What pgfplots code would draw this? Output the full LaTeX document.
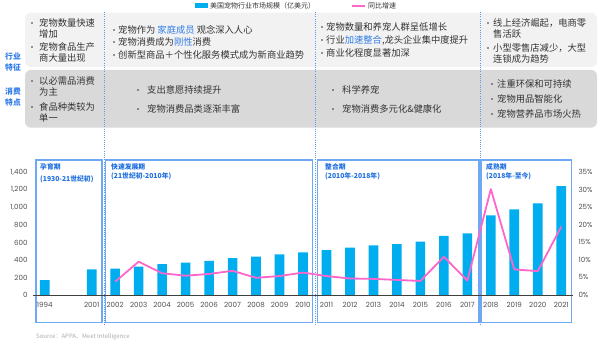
\documentclass[border=0pt]{standalone}
\usepackage{pgfplots}
\pgfplotsset{compat=1.18}
\usepackage{pgfplotstable}
\usepackage{fontspec}
\setmainfont{Poppins}
\newfontfamily\cjk{Noto Sans CJK SC}
\definecolor{barblue}{HTML}{00AEEF}
\definecolor{linepink}{HTML}{FF66CC}
\definecolor{boxblue}{HTML}{6FA8F5}
\definecolor{lblblue}{HTML}{1F6FE0}
\definecolor{txt}{HTML}{333333}
\definecolor{ticktxt}{HTML}{505050}
\definecolor{hl}{HTML}{2F7BE8}
\definecolor{rowa}{HTML}{F2F2F2}
\definecolor{rowb}{HTML}{D9D9D9}
\definecolor{dotblue}{HTML}{5B9BE8}
\definecolor{axisgray}{HTML}{404040}
\definecolor{srcgray}{HTML}{AAAAAA}

\pgfplotstableread{
x val
0 170
2 293
3 300
4 323
5 353
6 369
7 388
8 422
9 437
10 464
11 487
12 513
13 540
14 566
15 581
16 608
17 676
18 703
19 909
20 977
21 1045
22 1243
}\bars

\pgfplotstableread{
x g
3 3.8
4 9.5
5 6.2
6 5.5
7 6.0
8 6.9
9 4.9
10 5.4
11 6.4
12 5.4
13 4.7
14 4.6
15 4.3
16 4.0
17 10.9
18 4.1
19 30.2
20 7.3
21 6.8
22 19.5
}\growth

\newcommand{\tf}{\cjk\fontsize{9.3}{11}\selectfont\color{txt}}
\newcommand{\bl}[2]{\fill[txt] (#1,348-#2) circle (0.9);}

\begin{document}
\begin{tikzpicture}[x=1pt,y=1pt]
\path[use as bounding box, fill=white] (0,0) rectangle (600,348);
% table rows
\fill[rowa, rounded corners=6pt] (25,348-67) rectangle (597,348-12.7);
\fill[rowb, rounded corners=6pt] (25,348-127.7) rectangle (597,348-70);
% dotted separators
\foreach \xx in {104,315,480}
  \draw[dotblue, line width=0.9pt, dash pattern=on 0.8pt off 1.4pt] (\xx,348-12) -- (\xx,348-325);
% side labels
\node[font=\cjk\fontsize{7.8}{9}\selectfont\bfseries, text=hl] at (13,348-57) {行业};
\node[font=\cjk\fontsize{7.8}{9}\selectfont\bfseries, text=hl] at (13,348-67.5) {特征};
\node[font=\cjk\fontsize{7.8}{9}\selectfont\bfseries, text=hl] at (13,348-92) {消费};
\node[font=\cjk\fontsize{7.8}{9}\selectfont\bfseries, text=hl] at (13,348-103) {特点};
% row 1 col 1
\bl{32}{23}\bl{32}{47}
\node[anchor=west, inner sep=0pt] at (39,348-23) {\tf 宠物数量快速};
\node[anchor=west, inner sep=0pt] at (39,348-33.5) {\tf 增加};
\node[anchor=west, inner sep=0pt] at (39,348-47) {\tf 宠物食品生产};
\node[anchor=west, inner sep=0pt] at (39,348-57.5) {\tf 商大量出现};
% row 1 col 2
\bl{114}{30}\bl{114}{42}\bl{114}{55}
\node[anchor=west, inner sep=0pt] at (118,348-30) {\tf 宠物作为 {\color{hl}家庭成员} 观念深入人心};
\node[anchor=west, inner sep=0pt] at (118,348-42) {\tf 宠物消费成为{\color{hl}刚性}消费};
\node[anchor=west, inner sep=0pt] at (118,348-55) {\tf 创新型商品＋个性化服务模式成为新商业趋势};
% row 1 col 3
\bl{322}{27}\bl{322}{40}\bl{322}{53}
\node[anchor=west, inner sep=0pt] at (326,348-27) {\tf 宠物数量和养宠人群呈低增长};
\node[anchor=west, inner sep=0pt] at (326,348-40) {\tf 行业{\color{hl}加速整合},龙头企业集中度提升};
\node[anchor=west, inner sep=0pt] at (326,348-53) {\tf 商业化程度显著加深};
% row 1 col 4
\bl{488}{23}\bl{488}{48}
\node[anchor=west, inner sep=0pt] at (493,348-23) {\tf 线上经济崛起，电商零};
\node[anchor=west, inner sep=0pt] at (493,348-34) {\tf 售活跃};
\node[anchor=west, inner sep=0pt] at (493,348-48) {\tf 小型零售店减少，大型};
\node[anchor=west, inner sep=0pt] at (493,348-59) {\tf 连锁成为趋势};
% row 2 col 1
\bl{32}{81}\bl{32}{107}
\node[anchor=west, inner sep=0pt] at (39,348-81) {\tf 以必需品消费};
\node[anchor=west, inner sep=0pt] at (39,348-92) {\tf 为主};
\node[anchor=west, inner sep=0pt] at (39,348-107) {\tf 食品种类较为};
\node[anchor=west, inner sep=0pt] at (39,348-117.5) {\tf 单一};
% row 2 col 2
\bl{138}{90}\bl{138}{109}
\node[anchor=west, inner sep=0pt] at (147,348-90) {\tf 支出意愿持续提升};
\node[anchor=west, inner sep=0pt] at (147,348-109) {\tf 宠物消费品类逐渐丰富};
% row 2 col 3
\bl{333}{90}\bl{333}{109}
\node[anchor=west, inner sep=0pt] at (342,348-90) {\tf 科学养宠};
\node[anchor=west, inner sep=0pt] at (342,348-109) {\tf 宠物消费多元化\&健康化};
% row 2 col 4
\bl{492}{84}\bl{492}{99}\bl{492}{114}
\node[anchor=west, inner sep=0pt] at (497,348-84) {\tf 注重环保和可持续};
\node[anchor=west, inner sep=0pt] at (497,348-99) {\tf 宠物用品智能化};
\node[anchor=west, inner sep=0pt] at (497,348-114) {\tf 宠物营养品市场火热};
% legend
\fill[barblue] (195,348-3.5) rectangle (208,348-8.5);
\node[anchor=west, inner sep=0pt, font=\cjk\fontsize{7}{8}\selectfont, text=txt] at (210,348-6) {美国宠物行业市场规模（亿美元）};
\draw[linepink, line width=1.8pt] (352,348-5.7) -- (365,348-5.7);
\node[anchor=west, inner sep=0pt, font=\cjk\fontsize{7}{8}\selectfont, text=txt] at (368,348-6) {同比增速};
% period boxes
\draw[boxblue, line width=1.1pt] (36,348-160) rectangle (102,348-322.7);
\draw[boxblue, line width=1.1pt] (105.5,348-160) rectangle (312.3,348-322.7);
\draw[boxblue, line width=1.1pt] (317.3,348-160) rectangle (479,348-322.7);
\draw[boxblue, line width=1.1pt] (481,348-160) rectangle (571.7,348-322.7);
\tikzset{plab/.style={anchor=west, inner sep=0pt, font=\cjk\fontsize{6.8}{8}\selectfont\bfseries, text=lblblue}}
\node[plab] at (40,348-167) {孕育期};
\node[plab] at (40,348-179) {(1930-21世纪初)};
\node[plab] at (111,348-167) {快速发展期};
\node[plab] at (111,348-176.5) {(21世纪初-2010年)};
\node[plab] at (325,348-167) {整合期};
\node[plab] at (325,348-176.5) {(2010年-2018年)};
\node[plab] at (486,348-167) {成熟期};
\node[plab] at (486,348-176.5) {(2018年-至今)};
% source
\node[anchor=west, inner sep=0pt, font=\cjk\fontsize{6}{7}\selectfont, text=srcgray] at (36,348-337) {Source：APPA、Meet Intelligence};

\begin{axis}[
  at={(33pt,53pt)}, anchor=south west,
  scale only axis, width=540pt, height=122.7pt,
  xmin=-0.5, xmax=22.5, ymin=0, ymax=1400,
  axis line style={draw=none},
  ytick={0,200,...,1400},
  xtick={0,2,3,4,5,6,7,8,9,10,11,12,13,14,15,16,17,18,19,20,21,22},
  xticklabels={1994,2001,2002,2003,2004,2005,2006,2007,2008,2009,2010,2011,2012,2013,2014,2015,2016,2017,2018,2019,2020,2021},
  major tick length=0pt,
  tick label style={font=\fontsize{7.1}{8}\selectfont, text=ticktxt},
  /pgf/number format/assume math mode=true,
  /pgf/number format/1000 sep={,},
  yticklabel style={anchor=east, xshift=-2pt},
  xticklabel style={yshift=-3.5pt},
  clip=false,
]
\addplot[ybar, bar width=0.41, fill=barblue, draw=none] table[x=x,y=val]{\bars};
\draw[axisgray, line width=0.9pt] (axis cs:-0.5,0) -- (axis cs:22.5,0);
\end{axis}

\begin{axis}[
  at={(33pt,53pt)}, anchor=south west,
  scale only axis, width=540pt, height=122.7pt,
  xmin=-0.5, xmax=22.5, ymin=0, ymax=35,
  axis line style={draw=none},
  axis y line*=right,
  axis x line=none,
  ytick={0,5,...,35},
  yticklabel={\pgfmathprintnumber{\tick}\%},
  major tick length=0pt,
  tick label style={font=\fontsize{7.1}{8}\selectfont, text=ticktxt},
  /pgf/number format/assume math mode=true,
  yticklabel style={anchor=west, xshift=2pt},
  clip=false,
]
\addplot[linepink, line width=1.8pt, no marks, line join=round] table[x=x,y=g]{\growth};
\end{axis}
\end{tikzpicture}
\end{document}
